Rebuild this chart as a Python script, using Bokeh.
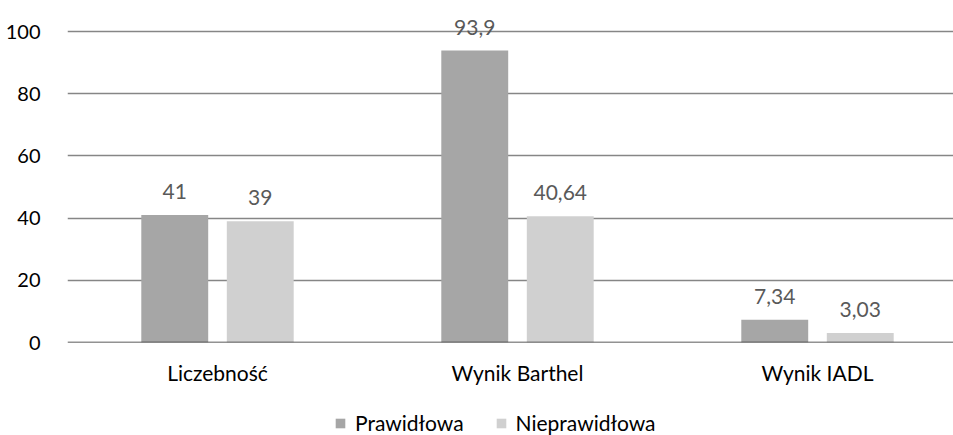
from bokeh.plotting import figure
from bokeh.layouts import column
from bokeh.models import Range1d, ColumnDataSource, Legend, LegendItem, Span, FixedTicker
from bokeh.transform import dodge
from bokeh.core.properties import value
from bokeh.embed import file_html
from bokeh.resources import INLINE

categories = ["Liczebność", "Wynik Barthel", "Wynik IADL"]
prawidlowa = [41, 93.9, 7.34]
nieprawidlowa = [39, 40.64, 3.03]
prawidlowa_labels = ["41", "93,9", "7,34"]
nieprawidlowa_labels = ["39", "40,64", "3,03"]
series_names = ["Prawidłowa", "Nieprawidłowa"]
y_ticks = [0, 20, 40, 60, 80, 100]

FONT = "Lato"
FS = "20px"
FS2 = "21px"
c1 = "#a6a6a6"
c2 = "#d0d0d0"

cat_pos = [i + 0.5 for i in range(len(categories))]
src = ColumnDataSource(dict(x=cat_pos, p=prawidlowa, n=nieprawidlowa,
                            pl=prawidlowa_labels, nl=nieprawidlowa_labels))

# the chart's last category column runs past the right edge of the picture
p = figure(width=953, height=405, x_range=Range1d(0, 886 / 300),
           y_range=Range1d(0, 110), output_backend="svg", toolbar_location=None,
           min_border_left=67, min_border_right=0, min_border_top=0, min_border_bottom=63)
p.outline_line_color = None
p.background_fill_color = "white"

off = 0.1425
w = 0.223
r1 = p.vbar(x=dodge("x", -off), top="p", width=w, source=src,
            fill_color=c1, line_color=None)
r2 = p.vbar(x=dodge("x", off), top="n", width=w, source=src,
            fill_color=c2, line_color=None)

p.text(x=dodge("x", -off), y="p", text="pl", source=src,
       text_align="center", text_baseline="bottom", y_offset=-16,
       text_font=value(FONT), text_font_size=FS2, text_color="#595959")
p.text(x=dodge("x", off), y="n", text="nl", source=src,
       text_align="center", text_baseline="bottom", y_offset=-16,
       text_font=value(FONT), text_font_size=FS2, text_color="#595959")

p.add_layout(Span(location=0, dimension="width", line_color="#262626", line_width=1.5))

p.xgrid.grid_line_color = None
p.ygrid.grid_line_color = "#868686"
p.ygrid.grid_line_width = 1.5
p.yaxis.ticker = FixedTicker(ticks=y_ticks)
p.yaxis.axis_line_color = None
p.yaxis.major_tick_line_color = None
p.yaxis.minor_tick_line_color = None
p.yaxis.major_label_standoff = 21
p.yaxis.major_label_text_font = FONT
p.yaxis.major_label_text_font_size = FS
p.yaxis.major_label_text_color = "#000000"

p.xaxis.ticker = FixedTicker(ticks=cat_pos)
p.xaxis.major_label_overrides = {x: c for x, c in zip(cat_pos, categories)}
p.xaxis.axis_line_color = None
p.xaxis.major_tick_line_color = None
p.xaxis.minor_tick_line_color = None
p.xaxis.major_label_standoff = 11
p.xaxis.major_label_text_font = FONT
p.xaxis.major_label_text_font_size = FS2
p.xaxis.major_label_text_color = "#000000"

# legend strip below the chart
lg = figure(width=953, height=30, x_range=Range1d(0, 1), y_range=Range1d(0, 1),
            output_backend="svg", toolbar_location=None,
            min_border_left=0, min_border_right=0, min_border_top=0, min_border_bottom=0)
lg.axis.visible = False
lg.grid.visible = False
lg.outline_line_color = None
d1 = lg.vbar(x=[0.5], top=[0], width=0.1, fill_color=c1, line_color=None)
d2 = lg.vbar(x=[0.5], top=[0], width=0.1, fill_color=c2, line_color=None)
legend = Legend(items=[LegendItem(label=series_names[0], renderers=[d1]),
                       LegendItem(label=series_names[1], renderers=[d2])],
                orientation="horizontal", location=(267, 0),
                label_text_font=FONT, label_text_font_size=FS2, label_text_color="#000000",
                glyph_width=12, glyph_height=12, spacing=31, padding=0, margin=0,
                border_line_color=None, background_fill_alpha=0, label_standoff=9)
lg.add_layout(legend, "center")

layout = column(p, lg, spacing=0)
open("out.html", "w").write(file_html(layout, INLINE))
